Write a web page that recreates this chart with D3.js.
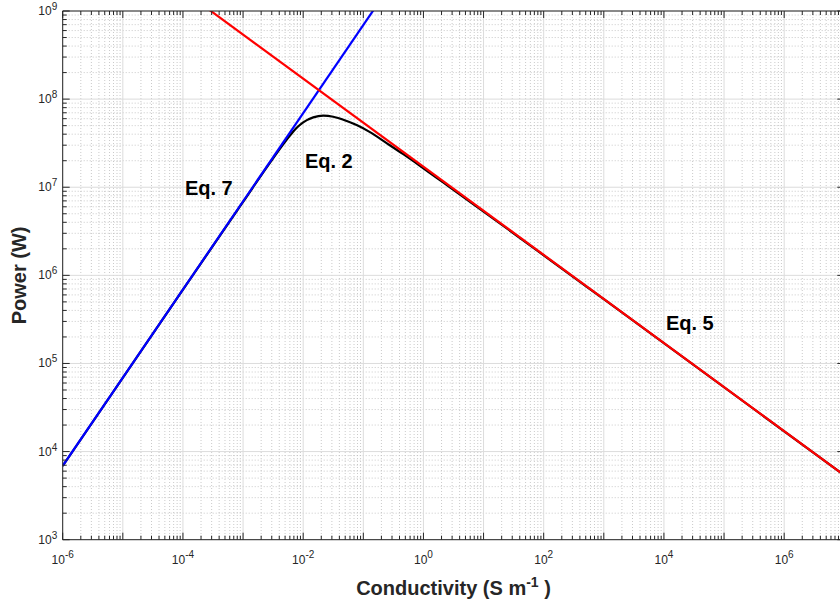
<!DOCTYPE html>
<html lang="en">
<head>
  <title>Power vs Conductivity</title>
  <script src="https://d3js.org/d3.v7.min.js"></script>
  <style>
    body { margin: 0; padding: 0; background: #fff; overflow: hidden; }
    text { font-family: "Liberation Sans", Arial, Helvetica, sans-serif; }
  </style>
</head>
<body>
  <svg id="chart"></svg>
  <script>
    // axis ticks (powers of ten)
    const xTickExps = [-6, -4, -2, 0, 2, 4, 6];
    const yTickExps = [3, 4, 5, 6, 7, 8, 9];

    // Eq. 7 (blue), slope +1
    const eq7Sigma = [1e-6, 1.5e-1];
    const eq7Power = [6.9e3, 1.04e9];

    // Eq. 5 (red), slope -1/2
    const eq5Sigma = [2.5e-4, 1e7];
    const eq5Power = [1.08e9, 5.4e3];

    // Eq. 2 (black)
    const eq2Sigma = [1e-6, 1e-4, 1e-3, 3.16e-3, 6.07e-3, 7.80e-3, 1e-2, 1.47e-2, 2.16e-2, 3.16e-2, 4.65e-2,
      7.74e-2, 0.129, 0.244, 0.462, 0.875, 1.66, 2.76, 1e1, 1e2, 1e3, 1e7];
    const eq2Power = [6.87e3, 6.87e5, 6.82e6, 2.13e7, 3.88e7, 4.73e7, 5.46e7, 6.21e7, 6.49e7, 6.31e7, 5.83e7,
      5.07e7, 4.22e7, 3.17e7, 2.37e7, 1.75e7, 1.28e7, 1.00e7, 5.30e6, 1.69e6, 5.36e5, 5.38e3];

    // annotations
    const labelText = ["Eq. 7", "Eq. 2", "Eq. 5"];
    const labelSigma = [1.08e-4, 1.07e-2, 1.08e4];
    const labelPower = [8.15e6, 1.64e7, 2.39e5];

    const width = 840, height = 605;
    const mLeft = 62.7, mRight = 844.3, mTop = 11, mBottom = 539.7;
    const axisColor = "#262626";

    const svg = d3.select("#chart")
      .attr("width", width)
      .attr("height", height);

    svg.append("rect").attr("width", width).attr("height", height).attr("fill", "#fff");

    const x = d3.scaleLog().domain([1e-6, 1e7]).range([mLeft, mRight]);
    const y = d3.scaleLog().domain([1e3, 1e9]).range([mBottom, mTop]);

    const xMajor = d3.range(-6, 8).map(e => Math.pow(10, e));
    const yMajor = d3.range(3, 10).map(e => Math.pow(10, e));
    const xMinor = [], yMinor = [];
    d3.range(-6, 7).forEach(e => d3.range(2, 10).forEach(k => xMinor.push(k * Math.pow(10, e))));
    d3.range(3, 9).forEach(e => d3.range(2, 10).forEach(k => yMinor.push(k * Math.pow(10, e))));

    // grid
    const grid = svg.append("g");
    grid.selectAll(".gxm").data(xMinor).enter().append("line")
      .attr("x1", d => x(d)).attr("x2", d => x(d))
      .attr("y1", mTop).attr("y2", mBottom)
      .attr("stroke", "#bdbdbd").attr("stroke-width", 0.8).attr("stroke-dasharray", "1,2");
    grid.selectAll(".gym").data(yMinor).enter().append("line")
      .attr("y1", d => y(d)).attr("y2", d => y(d))
      .attr("x1", mLeft).attr("x2", mRight)
      .attr("stroke", "#bdbdbd").attr("stroke-width", 0.8).attr("stroke-dasharray", "1,2");
    grid.selectAll(".gx").data(xMajor).enter().append("line")
      .attr("x1", d => x(d)).attr("x2", d => x(d))
      .attr("y1", mTop).attr("y2", mBottom)
      .attr("stroke", "#dcdcdc").attr("stroke-width", 1);
    grid.selectAll(".gy").data(yMajor).enter().append("line")
      .attr("y1", d => y(d)).attr("y2", d => y(d))
      .attr("x1", mLeft).attr("x2", mRight)
      .attr("stroke", "#dcdcdc").attr("stroke-width", 1);

    // lines
    svg.append("clipPath").attr("id", "clip")
      .append("rect").attr("x", mLeft).attr("y", mTop)
      .attr("width", mRight - mLeft).attr("height", mBottom - mTop);

    const line = d3.line()
      .x(d => x(d[0]))
      .y(d => y(d[1]))
      .curve(d3.curveMonotoneX);

    const plot = svg.append("g").attr("clip-path", "url(#clip)");
    const series = [
      { s: eq2Sigma, p: eq2Power, color: "#000000" },
      { s: eq7Sigma, p: eq7Power, color: "#0000ff" },
      { s: eq5Sigma, p: eq5Power, color: "#ff0000" }
    ];
    series.forEach(sr => {
      plot.append("path")
        .datum(d3.zip(sr.s, sr.p))
        .attr("d", line)
        .attr("fill", "none")
        .attr("stroke", sr.color)
        .attr("stroke-width", 2.2);
    });

    // axes box and ticks
    const ax = svg.append("g").attr("stroke", axisColor);
    ax.append("line").attr("x1", mLeft).attr("x2", mRight).attr("y1", mBottom).attr("y2", mBottom);
    ax.append("line").attr("x1", mLeft).attr("x2", mRight).attr("y1", mTop).attr("y2", mTop);
    ax.append("line").attr("x1", mLeft).attr("x2", mLeft).attr("y1", mTop).attr("y2", mBottom);
    ax.append("line").attr("x1", mRight).attr("x2", mRight).attr("y1", mTop).attr("y2", mBottom);

    function xTicks(vals, len) {
      [mBottom, mTop].forEach(y0 => {
        const dir = y0 === mBottom ? -1 : 1;
        ax.selectAll(null).data(vals).enter().append("line")
          .attr("x1", d => x(d)).attr("x2", d => x(d))
          .attr("y1", y0).attr("y2", y0 + dir * len);
      });
    }
    function yTicks(vals, len) {
      [mLeft, mRight].forEach(x0 => {
        const dir = x0 === mLeft ? 1 : -1;
        ax.selectAll(null).data(vals).enter().append("line")
          .attr("y1", d => y(d)).attr("y2", d => y(d))
          .attr("x1", x0).attr("x2", x0 + dir * len);
      });
    }
    xTicks(xMajor, 7); xTicks(xMinor, 4);
    yTicks(yMajor, 7); yTicks(yMinor, 4);

    // tick labels
    const xl = svg.append("g").selectAll("text").data(xTickExps).enter().append("text")
      .attr("x", d => x(Math.pow(10, d)))
      .attr("y", mBottom + 24)
      .attr("text-anchor", "middle")
      .attr("fill", axisColor)
      .attr("font-size", 12);
    xl.append("tspan").text("10");
    xl.append("tspan").attr("font-size", 10).attr("dy", -6).text(d => d);

    const yl = svg.append("g").selectAll("text").data(yTickExps).enter().append("text")
      .attr("x", mLeft - 5.5)
      .attr("y", d => y(Math.pow(10, d)) + 4)
      .attr("text-anchor", "end")
      .attr("fill", axisColor)
      .attr("font-size", 12);
    yl.append("tspan").text("10");
    yl.append("tspan").attr("font-size", 10).attr("dy", -5).text(d => d);

    // axis titles
    const xt = svg.append("text")
      .attr("x", (mLeft + mRight) / 2)
      .attr("y", 595)
      .attr("text-anchor", "middle")
      .attr("font-size", 20)
      .attr("font-weight", "bold")
      .attr("fill", axisColor);
    xt.append("tspan").text("Conductivity (S m");
    xt.append("tspan").attr("font-size", 14).attr("dy", -8).text("-1");
    xt.append("tspan").attr("dy", 8).text(" )");

    svg.append("text")
      .attr("transform", `translate(26,${(mTop + mBottom) / 2}) rotate(-90)`)
      .attr("text-anchor", "middle")
      .attr("font-size", 20)
      .attr("font-weight", "bold")
      .attr("fill", axisColor)
      .text("Power (W)");

    // equation labels
    svg.append("g").selectAll("text").data(labelText).enter().append("text")
      .attr("x", (d, i) => x(labelSigma[i]))
      .attr("y", (d, i) => y(labelPower[i]))
      .attr("font-size", 20)
      .attr("font-weight", "bold")
      .attr("fill", "#000")
      .text(d => d);
  </script>
</body>
</html>
